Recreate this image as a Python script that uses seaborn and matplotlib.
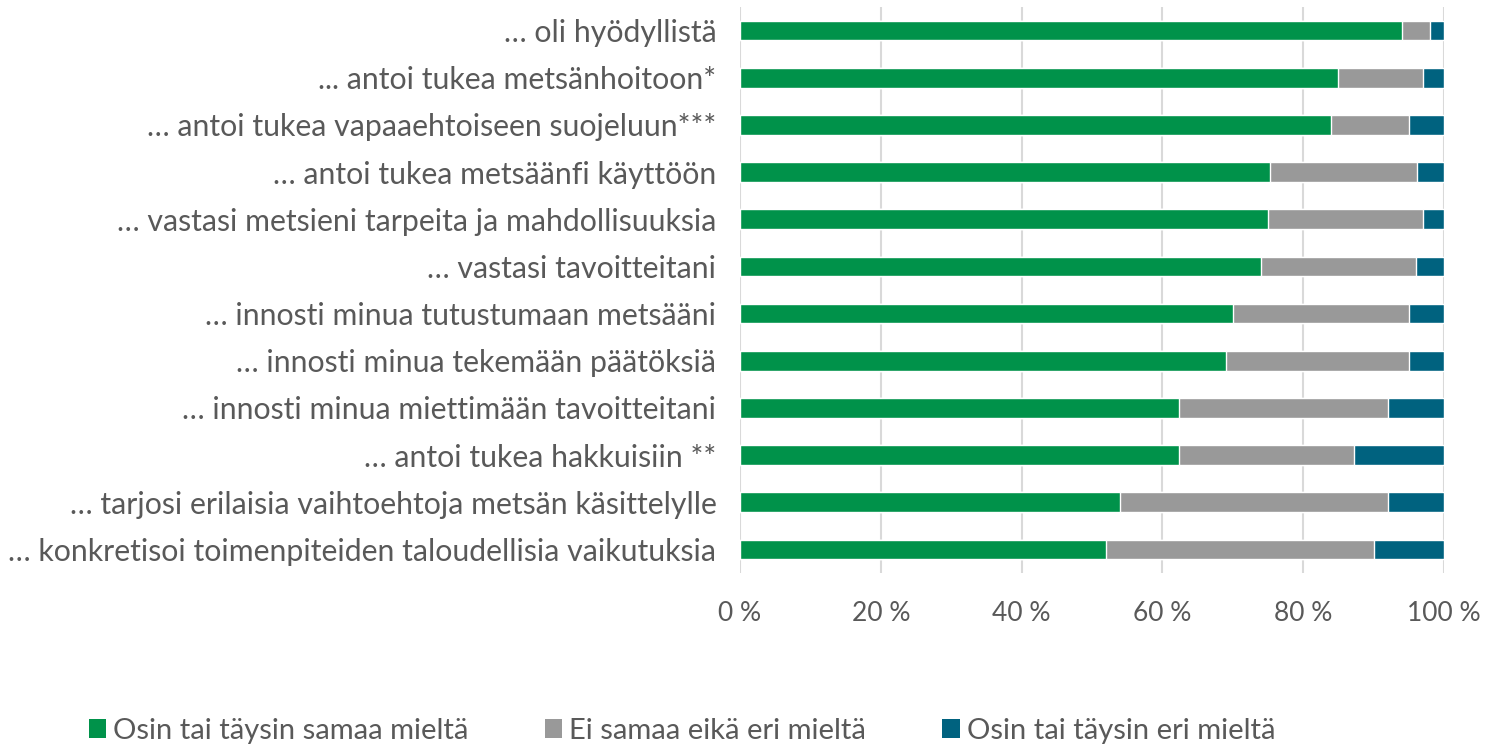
import matplotlib
matplotlib.use("Agg")
import matplotlib.pyplot as plt
import seaborn as sns
import pandas as pd
import numpy as np
from matplotlib.patches import Patch

categories = [
    "… oli hyödyllistä",
    "... antoi tukea metsänhoitoon*",
    "… antoi tukea vapaaehtoiseen suojeluun***",
    "… antoi tukea metsäänfi käyttöön",
    "… vastasi metsieni tarpeita ja mahdollisuuksia",
    "… vastasi tavoitteitani",
    "… innosti minua tutustumaan metsääni",
    "… innosti minua tekemään päätöksiä",
    "… innosti minua miettimään tavoitteitani",
    "… antoi tukea hakkuisiin **",
    "… tarjosi erilaisia vaihtoehtoja metsän käsittelylle",
    "… konkretisoi toimenpiteiden taloudellisia vaikutuksia",
]
agree = [94, 85, 84, 75.3, 75, 74, 70, 69, 62.4, 62.4, 54, 52]
neutral = [4, 12, 11, 20.8, 22, 22, 25, 26, 29.7, 24.8, 38, 38]
disagree = [2, 3, 5, 3.9, 3, 4, 5, 5, 7.9, 12.8, 8, 10]
series_names = ["Osin tai täysin samaa mieltä", "Ei samaa eikä eri mieltä", "Osin tai täysin eri mieltä"]
colors = ["#00924A", "#999999", "#00627F"]
xticks = [0, 20, 40, 60, 80, 100]
xtick_labels = ["0 %", "20 %", "40 %", "60 %", "80 %", "100 %"]

sns.set_theme(style="white")
plt.rcParams["font.family"] = ["Lato", "DejaVu Sans"]
text_color = "#595959"

df = pd.DataFrame({"cat": categories, "a": agree, "n": neutral, "d": disagree})
df["c1"] = df["a"]
df["c2"] = df["a"] + df["n"]
df["c3"] = df["a"] + df["n"] + df["d"]

fig = plt.figure(figsize=(14.88, 7.45), dpi=100)
ax = fig.add_axes([740/1488, 1 - 573/745, (1444-740)/1488, (573-7)/745])

for col, color in zip(["c3", "c2", "c1"], colors[::-1]):
    sns.barplot(data=df, x=col, y="cat", color=color, orient="h", width=0.42,
                ax=ax, saturation=1, order=categories)

ax.set_xlim(0, 100)
ax.set_xticks(xticks)
ax.set_xticklabels(xtick_labels)
ax.set_xlabel("")
ax.set_ylabel("")
for x in xticks:
    ax.axvline(x, color="#D9D9D9", lw=1.5, zorder=0)
ax.set_axisbelow(True)
for s in ax.spines.values():
    s.set_visible(False)
ax.tick_params(axis="y", length=0, labelsize=21.8, colors=text_color, pad=17)
ax.tick_params(axis="x", length=0, labelsize=19, colors=text_color, pad=20)
ax.set_ylim(len(categories) - 0.5, -0.5)

handles = [Patch(facecolor=c, edgecolor="none") for c in colors]
leg = fig.legend(handles, series_names, loc="center", bbox_to_anchor=(682/1488, 1 - 731/745),
                 ncol=3, frameon=False, fontsize=21, handlelength=0.6, handleheight=0.6,
                 handletextpad=0.25, columnspacing=2.6)
for t in leg.get_texts():
    t.set_color(text_color)

fig.savefig("out.png", dpi=100)
